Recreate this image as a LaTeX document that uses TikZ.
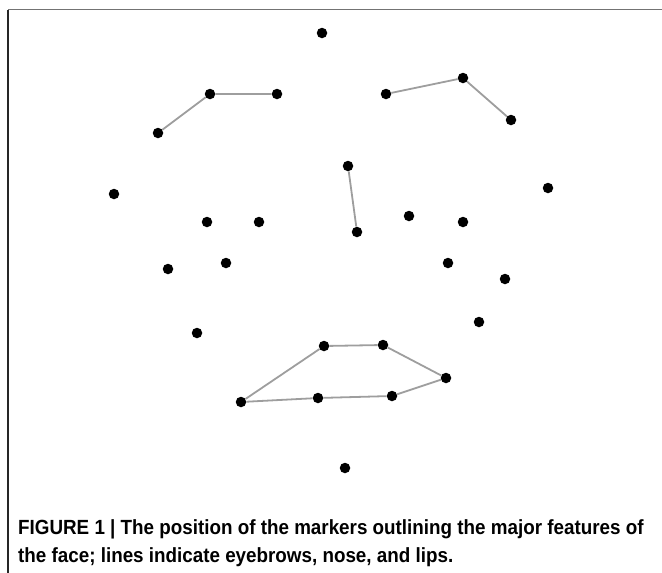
\documentclass[tikz,border=0pt]{standalone}
\usepackage{fontspec}
\newfontfamily\capfont[FakeStretch=0.918]{Liberation Sans Bold}
\usetikzlibrary{calc}
\tikzset{
  marker/.style = {circle, fill=black, inner sep=0pt,
    minimum size=10.5pt},% marqueur du visage
  featline/.style = {draw=black!38, line width=1.8pt},% trait gris
  caption/.style = {anchor=north west, align=left, inner sep=0pt,
    font=\capfont\fontsize{20.5}{28}\selectfont}
}
\begin{document}
\begin{tikzpicture}[x=1pt, y=-1pt]
\useasboundingbox (0,0) rectangle (662,573);
% cadre
\draw[black!55, line width=1.5pt] (8,9.5) -- (662,9.5);
\draw[black!85, line width=1.5pt] (8,9.5) -- (8,573);

% front et menton
\node[marker] (m1) at (322,33) {};
\node[marker] (m30) at (345,468) {};
% sourcils
\node[marker] (b1) at (158,133) {};
\node[marker] (b2) at (210,94) {};
\node[marker] (b3) at (277,94) {};
\node[marker] (b4) at (386,94) {};
\node[marker] (b5) at (463,78) {};
\node[marker] (b6) at (511,120) {};
% nez
\node[marker] (n1) at (348,166) {};
\node[marker] (n2) at (357,232) {};
% joues
\node[marker] (c1) at (114,194) {};
\node[marker] (c2) at (548,188) {};
\node[marker] (c3) at (207,222) {};
\node[marker] (c4) at (259,222) {};
\node[marker] (c5) at (409,216) {};
\node[marker] (c6) at (463,222) {};
\node[marker] (c7) at (168,269) {};
\node[marker] (c8) at (226,263) {};
\node[marker] (c9) at (448,263) {};
\node[marker] (c10) at (505,279) {};
\node[marker] (c11) at (197,333) {};
\node[marker] (c12) at (479,322) {};
% levres
\node[marker] (l1) at (324,346) {};
\node[marker] (l2) at (383,345) {};
\node[marker] (l3) at (446,378) {};
\node[marker] (l4) at (392,396) {};
\node[marker] (l5) at (318,398) {};
\node[marker] (l6) at (241,402) {};

\draw[featline] (b1) -- (b2) -- (b3);
\draw[featline] (b4) -- (b5) -- (b6);
\draw[featline] (n1) -- (n2);
\draw[featline] (l1) -- (l2) -- (l3) -- (l4) -- (l5) -- (l6) -- (l1);

\node[caption] (cap) at (18,519) {FIGURE 1 | The position of the markers outlining the major features of\\
the face; lines indicate eyebrows, nose, and lips.};
\end{tikzpicture}
\end{document}
